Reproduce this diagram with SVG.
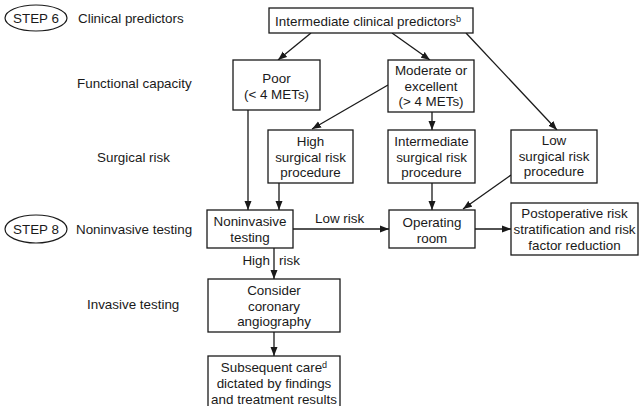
<svg xmlns="http://www.w3.org/2000/svg" width="640" height="406" viewBox="0 0 640 406">
  <defs>
    <marker id="arrow" markerUnits="userSpaceOnUse" markerWidth="10" markerHeight="8" refX="9" refY="4" orient="auto">
      <path d="M0,0.5 L9,4 L0,7.5 Z" fill="#1a1a1a"/>
    </marker>
  </defs>
  <style>
    text { font-family: "Liberation Sans", Arial, sans-serif; font-size: 13.4px; fill: #1a1a1a; }
    .c { text-anchor: middle; }
    .sup { font-size: 9px; }
    .box { fill: #ffffff; stroke: #1a1a1a; stroke-width: 1.3; }
    .step { fill: none; stroke: #1a1a1a; stroke-width: 1.2; }
    .edge { fill: none; stroke: #1a1a1a; stroke-width: 1.3; marker-end: url(#arrow); }
  </style>
  <rect width="640" height="406" fill="#ffffff"/>

  <!-- row labels -->
  <g id="labels">
    <ellipse class="step" cx="36" cy="18" rx="31" ry="13"/>
    <text class="c" x="36" y="23">STEP 6</text>
    <text x="78" y="23">Clinical predictors</text>
    <text x="77" y="88">Functional capacity</text>
    <text x="97" y="162">Surgical risk</text>
    <ellipse class="step" cx="36" cy="229" rx="31" ry="14"/>
    <text class="c" x="36" y="234">STEP 8</text>
    <text x="76" y="234">Noninvasive testing</text>
    <text x="87" y="309">Invasive testing</text>
  </g>

  <!-- connectors -->
  <g id="connectors">
    <line class="edge" x1="311" y1="33" x2="278" y2="60"/>
    <line class="edge" x1="392" y1="33" x2="430" y2="60"/>
    <line class="edge" x1="466" y1="33" x2="557" y2="130"/>
    <line class="edge" x1="388" y1="85" x2="312" y2="129"/>
    <line class="edge" x1="432" y1="112" x2="432" y2="130"/>
    <line class="edge" x1="248" y1="110" x2="248" y2="210"/>
    <line class="edge" x1="279" y1="183" x2="279" y2="210"/>
    <line class="edge" x1="432" y1="183" x2="432" y2="210"/>
    <line class="edge" x1="511" y1="175" x2="463" y2="209"/>
    <line class="edge" x1="293" y1="229" x2="389" y2="229"/>
    <line class="edge" x1="475" y1="229" x2="511" y2="229"/>
    <line class="edge" x1="274" y1="248" x2="274" y2="279"/>
    <line class="edge" x1="274" y1="332" x2="274" y2="356"/>
    <text x="315" y="223">Low risk</text>
    <text x="270" y="265" text-anchor="end">High</text>
    <text x="279" y="265">risk</text>
  </g>

  <g id="n-predictors">
    <rect class="box" x="269" y="8" width="204" height="25"/>
    <text class="c" x="368" y="25.5">Intermediate clinical predictors<tspan class="sup" dy="-4">b</tspan></text>
  </g>

  <g id="n-poor">
    <rect class="box" x="233" y="60" width="87" height="50"/>
    <text class="c" x="276.5" y="83">Poor</text>
    <text class="c" x="276.5" y="99">(&lt; 4 METs)</text>
  </g>

  <g id="n-moderate">
    <rect class="box" x="388" y="60" width="86" height="52"/>
    <text class="c" x="431" y="75">Moderate or</text>
    <text class="c" x="431" y="90.5">excellent</text>
    <text class="c" x="431" y="106">(&gt; 4 METs)</text>
  </g>

  <g id="n-high">
    <rect class="box" x="268" y="130" width="85" height="53"/>
    <text class="c" x="310.5" y="146">High</text>
    <text class="c" x="310.5" y="161.5">surgical risk</text>
    <text class="c" x="310.5" y="177">procedure</text>
  </g>

  <g id="n-intermediate">
    <rect class="box" x="388" y="130" width="87" height="53"/>
    <text class="c" x="431.5" y="146">Intermediate</text>
    <text class="c" x="431.5" y="161.5">surgical risk</text>
    <text class="c" x="431.5" y="177">procedure</text>
  </g>

  <g id="n-low">
    <rect class="box" x="511" y="130" width="86" height="53"/>
    <text class="c" x="554" y="145">Low</text>
    <text class="c" x="554" y="160.5">surgical risk</text>
    <text class="c" x="554" y="176">procedure</text>
  </g>

  <g id="n-noninvasive">
    <rect class="box" x="207" y="210" width="86" height="38"/>
    <text class="c" x="250" y="226">Noninvasive</text>
    <text class="c" x="250" y="241.5">testing</text>
  </g>

  <g id="n-operating">
    <rect class="box" x="389" y="210" width="86" height="38"/>
    <text class="c" x="432" y="227">Operating</text>
    <text class="c" x="432" y="242.5">room</text>
  </g>

  <g id="n-postoperative">
    <rect class="box" x="511" y="203" width="127" height="52"/>
    <text class="c" x="574.5" y="218">Postoperative risk</text>
    <text class="c" x="574.5" y="234">stratification and risk</text>
    <text class="c" x="574.5" y="250">factor reduction</text>
  </g>

  <g id="n-angiography">
    <rect class="box" x="208" y="279" width="132" height="53"/>
    <text class="c" x="274" y="295">Consider</text>
    <text class="c" x="274" y="310.5">coronary</text>
    <text class="c" x="274" y="326">angiography</text>
  </g>

  <g id="n-subsequent">
    <rect class="box" x="208" y="356" width="132" height="52"/>
    <text class="c" x="274" y="371.5">Subsequent care<tspan class="sup" dy="-4">d</tspan></text>
    <text class="c" x="274" y="387.5">dictated by findings</text>
    <text class="c" x="274" y="403.5">and treatment results</text>
  </g>
</svg>
